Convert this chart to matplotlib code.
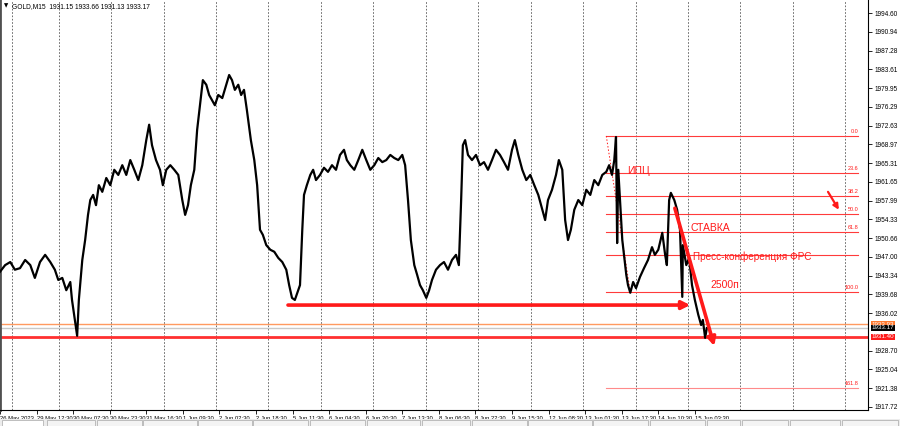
import matplotlib.pyplot as plt
import matplotlib.transforms as mtransforms
from matplotlib.patches import Rectangle

# GOLD M15 (indice barra, prezzo)
bars = [0, 9, 18, 26, 35, 44, 53, 61, 70, 79, 88, 96, 102, 109, 116, 123, 126, 131, 135, 138,
        144, 149, 154, 158, 163, 168, 173, 179, 186, 193, 200, 207, 214, 221, 228, 235, 242, 249,
        256, 261, 266, 273, 280, 285, 291, 298, 305, 312, 319, 324, 329, 334, 340, 345, 350, 355,
        361, 366, 371, 376, 382, 389, 396, 401, 406, 411, 417, 422, 427, 432, 439, 445, 450, 455,
        460, 466, 473, 480, 487, 494, 501, 506, 511, 516, 522, 525, 529, 532, 537, 543, 548, 553,
        560, 567, 574, 581, 588, 595, 602, 607, 613, 620, 627, 634, 641, 648, 655, 662, 669, 676,
        683, 690, 697, 704, 709, 714, 719, 725, 730, 735, 740, 746, 751, 756, 763, 770, 777, 784,
        791, 798, 803, 807, 810, 814, 819, 826, 833, 840, 847, 854, 861, 868, 875, 882, 889, 896,
        901, 907, 914, 921, 928, 935, 942, 949, 954, 959, 966, 973, 978, 984, 989, 994, 999, 1005,
        1012, 1019, 1026, 1033, 1040, 1047, 1054, 1061, 1066, 1071, 1075, 1078, 1080, 1082, 1085,
        1089, 1092, 1096, 1099, 1103, 1108, 1113, 1120, 1127, 1134, 1141, 1146, 1152, 1159, 1164,
        1167, 1171, 1174, 1180, 1185, 1190, 1194, 1195, 1201, 1206, 1211, 1216, 1222, 1227, 1230,
        1234, 1237]
prices = [1944.1, 1945.4, 1946.0, 1944.5, 1944.8, 1946.4, 1945.4, 1942.9, 1946.0, 1947.4, 1946.0,
          1944.5, 1942.5, 1942.9, 1940.5, 1942.1, 1938.6, 1934.7, 1931.6, 1938.6, 1946.4, 1950.3,
          1955.2, 1958.1, 1959.1, 1957.1, 1961.0, 1959.7, 1962.4, 1961.0, 1964.0, 1963.0, 1964.9,
          1963.0, 1965.9, 1964.0, 1962.0, 1964.9, 1969.8, 1972.8, 1968.8, 1965.9, 1964.0, 1961.0,
          1964.0, 1964.9, 1964.0, 1963.0, 1958.1, 1955.2, 1957.1, 1961.0, 1964.0, 1971.8, 1976.6,
          1981.5, 1980.6, 1978.6, 1977.6, 1976.6, 1978.6, 1978.0, 1980.6, 1982.5, 1981.5, 1979.6,
          1980.6, 1978.6, 1979.6, 1975.7, 1969.8, 1965.9, 1961.0, 1952.3, 1951.3, 1949.3, 1948.4,
          1948.0, 1946.8, 1946.0, 1944.5, 1941.5, 1939.0, 1938.6, 1940.5, 1941.5, 1952.3, 1959.1,
          1961.0, 1963.0, 1964.0, 1962.0, 1963.0, 1964.4, 1963.6, 1964.9, 1964.0, 1966.9, 1967.9,
          1965.9, 1964.9, 1964.0, 1965.9, 1967.9, 1965.9, 1964.0, 1964.9, 1966.3, 1965.5, 1965.9,
          1966.9, 1966.3, 1965.9, 1966.9, 1964.9, 1958.1, 1950.3, 1945.4, 1943.5, 1941.5, 1940.5,
          1939.0, 1940.5, 1942.5, 1944.5, 1945.4, 1946.0, 1944.5, 1946.4, 1947.4, 1945.4, 1958.1,
          1968.8, 1969.8, 1966.9, 1965.9, 1966.9, 1964.9, 1965.5, 1964.0, 1965.9, 1967.9, 1966.9,
          1965.5, 1964.0, 1967.9, 1969.8, 1966.9, 1964.0, 1962.0, 1963.0, 1961.0, 1959.1, 1956.2,
          1954.2, 1958.1, 1960.1, 1963.0, 1965.9, 1964.0, 1954.2, 1950.3, 1952.3, 1956.2, 1958.1,
          1957.1, 1960.1, 1959.1, 1962.0, 1961.0, 1963.0, 1963.6, 1964.9, 1963.0, 1965.9, 1970.4,
          1949.7, 1964.0, 1958.1, 1950.3, 1947.4, 1943.5, 1941.5, 1940.0, 1942.1, 1940.9, 1943.1,
          1944.8, 1946.4, 1948.9, 1947.4, 1948.4, 1951.7, 1947.4, 1945.4, 1958.1, 1959.5, 1958.1,
          1956.2, 1952.3, 1939.2, 1949.3, 1945.4, 1946.8, 1941.5, 1938.6, 1935.7, 1933.7, 1934.7,
          1931.2, 1933.1]

# separatori dei giorni (barre)
day_lines = [21, 103, 194, 287, 378, 469, 562, 653, 745, 836, 929, 1020, 1113, 1204, 1295, 1388, 1479]

# etichette asse tempo, una ogni 64 barre
time_labels = ['26 May 2023', '29 May 12:30', '30 May 07:30', '30 May 23:30', '31 May 16:30',
               '1 Jun 09:30', '2 Jun 02:30', '2 Jun 18:30', '5 Jun 11:30', '6 Jun 04:30',
               '6 Jun 20:30', '7 Jun 13:30', '8 Jun 06:30', '8 Jun 22:30', '9 Jun 15:30',
               '12 Jun 08:30', '13 Jun 01:30', '13 Jun 17:30', '14 Jun 10:30', '15 Jun 03:30']

price_ticks = [1994.60, 1990.94, 1987.28, 1983.61, 1979.95, 1976.29, 1972.63, 1968.97, 1965.31,
               1961.65, 1957.99, 1954.33, 1950.66, 1947.00, 1943.34, 1939.68, 1936.02, 1928.70,
               1925.04, 1921.38, 1917.72]

# Fibonacci
fib_levels = [0.0, 23.6, 38.2, 50.0, 61.8, 76.4, 100.0, 161.8]
fib_labels = ['0.0', '23.6', '38.2', '50.0', '61.8', '', '100.0', '161.8']
fib_high = 1970.6
fib_low = 1940.15
fib_start = 1061
fib_end = 1502

# linee orizzontali e prezzi a destra
orange_price = 1933.9
bid_price = 1933.17
red_price = 1931.4

RED = '#ff1a1a'
small = ['Liberation Sans', 'DejaVu Sans']

fig = plt.figure(figsize=(9, 4.26), dpi=100)
ax = fig.add_axes([0.0, 16 / 426, 868 / 900, 410 / 426])

# griglia verticale tratteggiata
for d in day_lines:
    ax.axvline(d, color='#555555', lw=0.6, ls=(0, (2, 2)), zorder=0)

# prezzo
ax.plot(bars, prices, color='black', lw=1.6, zorder=3)

# livelli di Fibonacci
for lvl, lab in zip(fib_levels, fib_labels):
    p = fib_high - (fib_high - fib_low) * lvl / 100
    col = '#ff8a8a' if lvl > 100 else '#ff3b3b'
    ax.plot([fib_start, fib_end], [p, p], color=col, lw=0.8, zorder=2)
    if lab:
        ax.text(fib_end, p + 0.4, lab, color=RED, fontsize=4, family=small,
                ha='right', va='bottom')
ax.plot([fib_start, 1103], [fib_high, fib_low], color=RED, lw=0.7, ls=(0, (1.5, 2)), zorder=2)

# linee orizzontali
ax.axhline(orange_price, color='#ff9a60', lw=1.0, zorder=1)
ax.axhline(bid_price, color='#c8c8c8', lw=1.0, zorder=1)
ax.axhline(red_price, color='#ff3030', lw=2.0, zorder=2)

# frecce
arrow = dict(arrowstyle='-|>', color=RED, lw=2.6, mutation_scale=12, shrinkA=0, shrinkB=0)
ax.annotate('', xy=(1208, 1937.6), xytext=(504, 1937.6), arrowprops=arrow, zorder=5)
ax.annotate('', xy=(1250, 1929.6), xytext=(1181, 1956.5), arrowprops=arrow, zorder=5)
ax.annotate('', xy=(1468, 1956.2), xytext=(1449, 1959.7),
            arrowprops=dict(arrowstyle='-|>', color=RED, lw=1.6, mutation_scale=8,
                            shrinkA=0, shrinkB=0), zorder=5)

# testi
ax.text(1097, 1963.8, 'ИПЦ', color=RED, fontsize=7.5, family=small, va='center')
ax.text(1209, 1952.6, 'СТАВКА', color=RED, fontsize=7.5, family=small, va='center')
ax.text(1213, 1947.0, 'Пресс-конференция ФРС', color=RED, fontsize=7.2, family=small, va='center')
ax.text(1244, 1941.5, '2500п', color=RED, fontsize=7.5, family=small, va='center')

# assi
ax.set_xlim(0, 1519)
ax.set_ylim(1917.12, 1997.14)
ax.spines['top'].set_visible(False)
ax.spines['left'].set_color('#505050')
ax.spines['left'].set_linewidth(2)
ax.spines['right'].set_linewidth(0.8)
ax.spines['bottom'].set_linewidth(0.8)

ax.yaxis.tick_right()
ax.set_yticks(price_ticks)
ax.set_yticklabels([f'{v:.2f}' for v in price_ticks], family=small, fontsize=4.7)
ax.tick_params(axis='y', length=3, width=0.6, pad=2)

ax.set_xticks([64 * i for i in range(len(time_labels))])
ax.set_xticklabels(time_labels, ha='left', family=small, fontsize=4.2)
ax.tick_params(axis='x', length=3, width=0.6, pad=1)

# etichette prezzo colorate sull'asse destro
blend = mtransforms.blended_transform_factory(ax.transAxes, ax.transData)
for p, fc, txt in [(orange_price, '#ff7a30', '1933.93'), (bid_price, 'black', '1933.17'),
                   (red_price, '#ff1a1a', '1931.40')]:
    ax.text(1.004, p, txt, transform=blend, fontsize=4.5, family=small, color='white',
            va='center', ha='left', bbox=dict(boxstyle='square,pad=0.12', fc=fc, ec='none'),
            clip_on=False)

# intestazione
fig.text(0.004, 0.992, '▼', fontsize=4, va='top')
fig.text(0.013, 0.993, 'GOLD,M15  1931.15 1933.66 1931.13 1933.17', fontsize=4.8,
         family=small, va='top')

# schede in basso
fig.patches.append(Rectangle((0, 0), 1, 7 / 426, transform=fig.transFigure,
                             fc='#ececec', ec='none'))
tabs = [(2, 43), (47, 95), (97, 142), (143, 197), (198, 252), (253, 308), (310, 365), (367, 420),
        (422, 470), (472, 527), (528, 592), (593, 648), (650, 705), (707, 740), (742, 788),
        (790, 840), (842, 898)]
for i, (a, b) in enumerate(tabs):
    fig.patches.append(Rectangle((a / 900, 0), (b - a) / 900, 6 / 426, transform=fig.transFigure,
                                 fc='white' if i == 0 else '#f4f4f4', ec='#a8a8a8', lw=0.5))

fig.savefig('out.png', dpi=100)
